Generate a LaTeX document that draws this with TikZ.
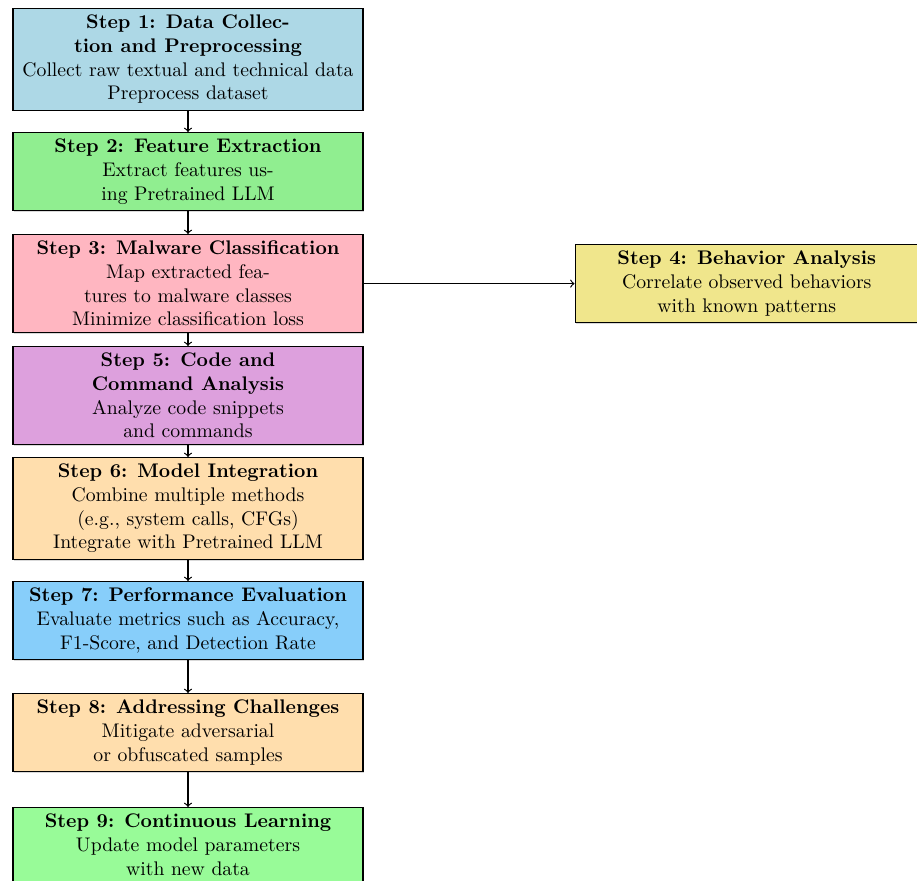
\documentclass[tikz,border=0pt]{standalone}
\usetikzlibrary{shadows}

% Fill colours of the pipeline stages
\definecolor{stepblue}{RGB}{173,216,230}
\definecolor{stepgreen}{RGB}{144,238,144}
\definecolor{steppink}{RGB}{255,182,193}
\definecolor{stepkhaki}{RGB}{240,230,140}
\definecolor{stepplum}{RGB}{221,160,221}
\definecolor{steppeach}{RGB}{255,222,173}
\definecolor{stepsky}{RGB}{135,206,250}
\definecolor{steppale}{RGB}{152,251,152}

\begin{document}
% one unit = 0.5076pt, y grows downwards
\begin{tikzpicture}[x=0.5076pt, y=-0.5076pt,
  stepbox/.style={draw=black, semithick, align=center, minimum width=177.7pt,
    inner sep=3.33pt, anchor=north,
    drop shadow={shadow xshift=0.5pt, shadow yshift=-0.6pt, opacity=0.3}},
  flow/.style={->, semithick}]
\useasboundingbox (0,0) rectangle (917,881);

\node[stepbox, fill=stepblue] (s1) at (188,8)
  {\textbf{Step 1: Data Collec-}\\\textbf{tion and Preprocessing}\\
   Collect raw textual and technical data\\Preprocess dataset};
\node[stepbox, fill=stepgreen] (s2) at (188,132)
  {\textbf{Step 2: Feature Extraction}\\Extract features us-\\ing Pretrained LLM};
\node[stepbox, fill=steppink] (s3) at (188,234)
  {\textbf{Step 3: Malware Classification}\\Map extracted fea-\\
   tures to malware classes\\Minimize classification loss};
\coordinate (c4) at (574.5,0);
\node[stepbox, fill=stepkhaki, minimum width=174.3pt, anchor=west] (s4)
  at (s3.east -| c4)
  {\textbf{Step 4: Behavior Analysis}\\Correlate observed behaviors\\with known patterns};
\node[stepbox, fill=stepplum] (s5) at (188,346)
  {\textbf{Step 5: Code and}\\\textbf{Command Analysis}\\Analyze code snippets\\and commands};
\node[stepbox, fill=steppeach] (s6) at (188,457)
  {\textbf{Step 6: Model Integration}\\Combine multiple methods\\
   (e.g., system calls, CFGs)\\Integrate with Pretrained LLM};
\node[stepbox, fill=stepsky] (s7) at (188,581)
  {\textbf{Step 7: Performance Evaluation}\\Evaluate metrics such as Accuracy,\\
   F1-Score, and Detection Rate};
\node[stepbox, fill=steppeach] (s8) at (188,693)
  {\textbf{Step 8: Addressing Challenges}\\Mitigate adversarial\\or obfuscated samples};
\node[stepbox, fill=steppale] (s9) at (188,807)
  {\textbf{Step 9: Continuous Learning}\\Update model parameters\\with new data};

\draw[flow] (s1) -- (s2);
\draw[flow] (s2) -- (s3);
\draw[flow] (s3.east) -- (s4.west);
\draw[flow] (s3) -- (s5);
\draw[flow] (s5) -- (s6);
\draw[flow] (s6) -- (s7);
\draw[flow] (s7) -- (s8);
\draw[flow] (s8) -- (s9);
\end{tikzpicture}
\end{document}
